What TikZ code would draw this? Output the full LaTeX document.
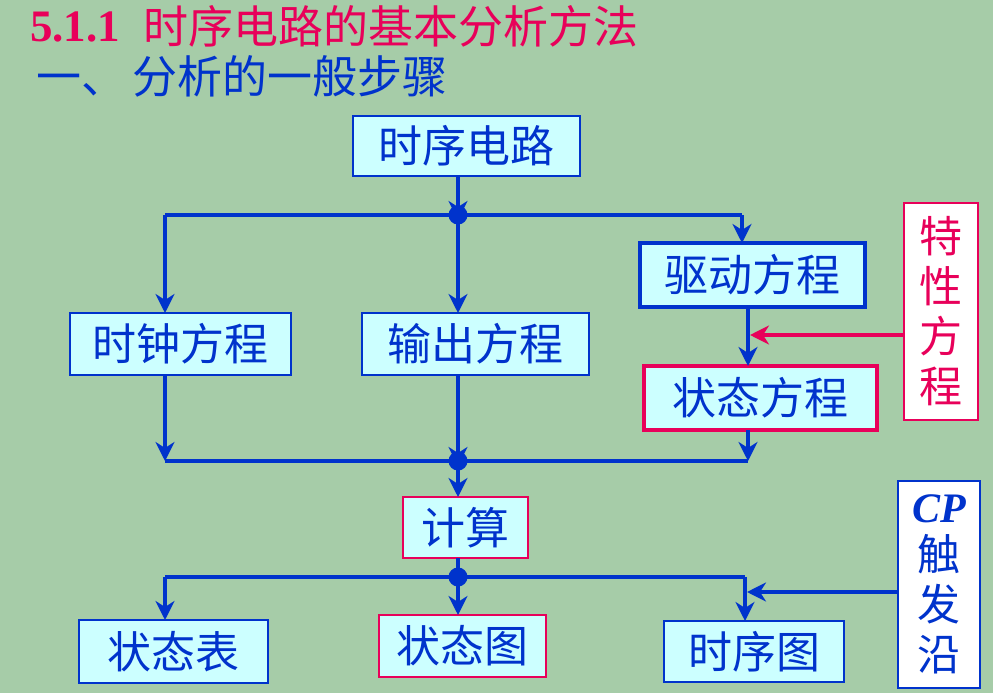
\documentclass[tikz,border=0pt]{standalone}
\usepackage{fontspec}
\setmainfont{Liberation Serif}
\newfontfamily\cjk{Noto Sans CJK SC}
\usetikzlibrary{arrows.meta,calc}
\definecolor{bg}{RGB}{166,204,168}
\definecolor{bx}{RGB}{204,255,255}
\definecolor{bl}{RGB}{0,51,204}
\definecolor{rd}{RGB}{232,0,90}
\begin{document}
\begin{tikzpicture}[x=1pt,y=-1pt,
  box/.style={draw=bl, line width=2pt, fill=bx, text=bl,
    font=\cjk\fontsize{44}{48}\selectfont, inner sep=0pt, outer sep=0pt, anchor=north west},
  thickbox/.style={box, line width=4pt},
  redbox/.style={box, draw=rd},
  thickred/.style={box, draw=rd, line width=4pt},
  vbox/.style={box, fill=white, align=center, font=\cjk\fontsize{43}{50}\selectfont},
  wire/.style={draw=bl, line width=4.5pt},
  arr/.style={wire, -{Stealth[length=19pt,width=19pt,inset=6pt]}},
  rarr/.style={draw=rd, line width=4.5pt, -{Stealth[length=19pt,width=19pt,inset=6pt]}},
  dot/.style={circle, fill=bl, minimum size=19pt, inner sep=0pt},
  ttl/.style={inner sep=0pt, anchor=west}
]
\fill[bg] (0,0) rectangle (993,693);
\useasboundingbox (0,0) rectangle (993,693);

% titles
\node[ttl, anchor=base west, text=rd, font=\bfseries\fontsize{45}{50}\selectfont] (t1) at (30,42) {5.1.1};
\node[ttl, text=rd, font=\cjk\fontsize{45}{50}\selectfont] (t2) at (143,26) {时序电路的基本分析方法};
\node[ttl, text=bl, font=\cjk\fontsize{45}{50}\selectfont] (t3) at (36,76) {一、\hspace{6pt}分析的一般步骤};

% boxes
\node[box, minimum width=227pt, minimum height=60pt] (sx) at (353,116) {时序电路};
\node[thickbox, minimum width=225pt, minimum height=64pt] (qd) at (640,243) {驱动方程};
\node[box, minimum width=221pt, minimum height=62pt] (sz) at (70,313) {时钟方程};
\node[box, minimum width=227pt, minimum height=62pt] (sc) at (362,313) {输出方程};
\node[thickred, minimum width=233pt, minimum height=64pt] (zt) at (644,366) {状态方程};
\node[vbox, draw=rd, text=rd, minimum width=74pt, minimum height=217pt] (tx) at (904,203) {特\\性\\方\\程};
\node[redbox, minimum width=125pt, minimum height=61pt] (js) at (403,497) {计算};
\node[box, minimum width=189pt, minimum height=63pt] (ztb) at (79,620) {状态表};
\node[redbox, minimum width=167pt, minimum height=62pt] (ztt) at (379,615) {状态图};
\node[box, minimum width=180pt, minimum height=61pt] (sxt) at (664,621) {时序图};
\node[vbox, minimum width=82pt, minimum height=207pt] (cp) at (898,481)
  {{\rmfamily\bfseries\itshape\fontsize{42}{42}\selectfont CP}\\[-2pt]触\\发\\沿};

% junctions
\coordinate (j1) at (458,215);
\coordinate (j1L) at (165,215);
\coordinate (j1R) at (742,215);
\coordinate (j2) at (458,461);
\coordinate (j2L) at (165,461);
\coordinate (j2R) at (748,461);
\coordinate (j3) at (458,577);
\coordinate (j3L) at (165,577);
\coordinate (j3R) at (745,577);
\coordinate (vq) at (748,335);
\coordinate (vc) at (745,592);

% top section
\draw[arr] (sx.south -| j1) -- ([yshift=-5pt]j1);
\draw[wire] (j1L) -- (j1R);
\draw[arr] (j1L) -- (j1L |- sz.north);
\draw[arr] (j1) -- (j1 |- sc.north);
\draw[arr] (j1R) -- (j1R |- qd.north);
\draw[arr] (vq |- qd.south) -- (vq |- zt.north);
\draw[rarr] (tx.west |- vq) -- ([xshift=2pt]vq);

% middle section
\draw[arr] (j2L |- sz.south) -- (j2L);
\draw[arr] (j2 |- sc.south) -- ([yshift=-5pt]j2);
\draw[arr] (j2R |- zt.south) -- (j2R);
\draw[wire] (j2L) -- (j2R);
\draw[arr] (j2) -- (j2 |- js.north);

% bottom section
\draw[wire] (j3 |- js.south) -- (j3);
\draw[wire] (j3L) -- (j3R);
\draw[arr] (j3L) -- (j3L |- ztb.north);
\draw[arr] (j3) -- (j3 |- ztt.north);
\draw[arr] (j3R) -- (j3R |- sxt.north);
\draw[arr] (cp.west |- vc) -- ([xshift=2pt]vc);

\node[dot] (d1) at (j1) {};
\node[dot] (d2) at (j2) {};
\node[dot] (d3) at (j3) {};
\end{tikzpicture}
\end{document}
